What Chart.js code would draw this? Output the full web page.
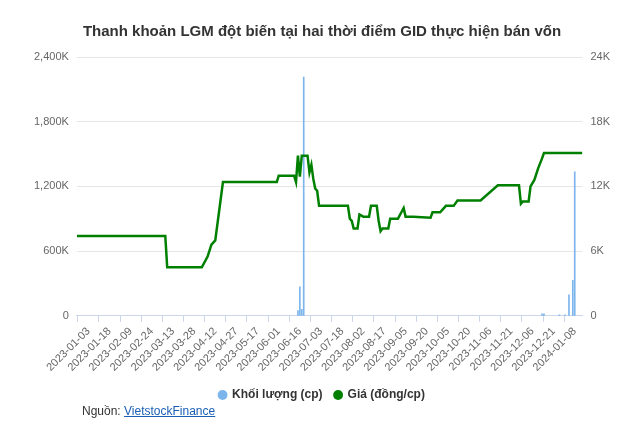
<!DOCTYPE html>
<html><head><meta charset="utf-8">
<script src="https://cdn.jsdelivr.net/npm/chart.js@4"></script>
<style>body{margin:0;background:#fff;font-family:"Liberation Sans",Arial,sans-serif}
#w{width:640px;height:411px;position:relative}
#src{position:absolute;left:82px;top:404px;font-size:12px;color:#333}
#src a{color:#1a5fb4;text-decoration:underline}</style></head>
<body><div id="w"><canvas id="c"></canvas></div>
<div id="src">Nguồn: <a>VietstockFinance</a></div>
<script>
const tickLabels=["2023-01-03","2023-01-18","2023-02-09","2023-02-24","2023-03-13","2023-03-28","2023-04-12","2023-04-27","2023-05-17","2023-06-01","2023-06-16","2023-07-03","2023-07-18","2023-08-02","2023-08-17","2023-09-05","2023-09-20","2023-10-05","2023-10-20","2023-11-06","2023-11-21","2023-12-06","2023-12-21","2024-01-08"];
const priceIdx=[-6,40,41,59,62,64,66,70,98,99,107,108,109,110,111,114,115,116,117,118,119,120,135,136,137,138,140,141,143,146,147,150,151,152,153,156,157,161,164,165,169,178,179,183,186,190,192,204,213,224,225,226,229,230,232,234,236,237,257];
const priceVal=[7.4,7.4,4.5,4.5,5.5,6.6,7.0,12.4,12.4,13.0,13.0,12.4,14.85,12.9,14.85,14.85,13.3,14.0,12.7,11.8,11.6,10.2,10.2,9.0,8.8,8.1,8.1,9.4,9.2,9.2,10.2,10.2,8.8,7.85,8.1,8.1,9.0,9.0,10.0,9.2,9.2,9.1,9.6,9.6,10.2,10.2,10.7,10.7,12.1,12.1,10.4,10.6,10.6,12.0,12.6,13.7,14.6,15.1,15.1];
const volIdx=[109,110,111,112,236,237,245,248,250,252,253];
const volVal=[50,270,60,2213,20,20,10,10,195,330,1335];
const gridC='#e6e6e6', tc='#666';
new Chart(document.getElementById('c'),{
 data:{datasets:[
  {type:'bar',label:'Khối lượng (cp)',data:volIdx.map((x,i)=>({x,y:volVal[i]*1000})),backgroundColor:'#7cb5ec',borderColor:'#7cb5ec',barThickness:1,yAxisID:'y',order:2},
  {type:'line',label:'Giá (đồng/cp)',data:priceIdx.map((x,i)=>({x,y:priceVal[i]*1000})),borderColor:'#008000',backgroundColor:'#008000',borderWidth:2.5,pointRadius:0,tension:0,yAxisID:'y1',order:1}
 ]},
 options:{responsive:true,maintainAspectRatio:false,animation:false,
  layout:{padding:{left:26,right:22,top:13,bottom:0}},
  plugins:{title:{display:true,text:'Thanh khoản LGM đột biến tại hai thời điểm GID thực hiện bán vốn',color:'#333',font:{size:15,weight:'bold',family:'"Liberation Sans",Arial'},padding:{top:10,bottom:16}},
   legend:{position:'bottom',labels:{sort:(a,b)=>a.datasetIndex-b.datasetIndex,
     generateLabels:ch=>Chart.defaults.plugins.legend.labels.generateLabels(ch).map(l=>Object.assign(l,{lineWidth:0,pointStyle:'circle'})),
     usePointStyle:true,boxWidth:7,boxHeight:7,color:'#333',font:{size:12,weight:'bold',family:'"Liberation Sans",Arial'},padding:12}},tooltip:{enabled:false}},
  scales:{
   x:{type:'linear',min:-6,max:257,offset:false,
    afterBuildTicks:s=>{s.ticks=tickLabels.map((t,i)=>({value:i*11}));},
    ticks:{callback:(v)=>tickLabels[Math.round(v/11)],minRotation:45,maxRotation:45,autoSkip:false,color:tc,font:{size:11}},
    grid:{drawOnChartArea:false,color:'#ccd6eb',tickLength:6},border:{color:'#ccd6eb'}},
   y:{position:'left',min:0,max:2400000,afterBuildTicks:s=>{s.ticks=[0,600000,1200000,1800000,2400000].map(v=>({value:v}));},
    ticks:{color:tc,font:{size:11},padding:8,callback:v=>v===0?'0':(v/1000).toLocaleString('en-US')+'K'},grid:{color:gridC,drawTicks:false},border:{display:false}},
   y1:{position:'right',min:0,max:24000,afterBuildTicks:s=>{s.ticks=[0,6000,12000,18000,24000].map(v=>({value:v}));},
    ticks:{color:tc,font:{size:11},padding:8,callback:v=>v===0?'0':(v/1000)+'K'},grid:{drawOnChartArea:false,drawTicks:false},border:{display:false}}
  }}
});
</script></body></html>
